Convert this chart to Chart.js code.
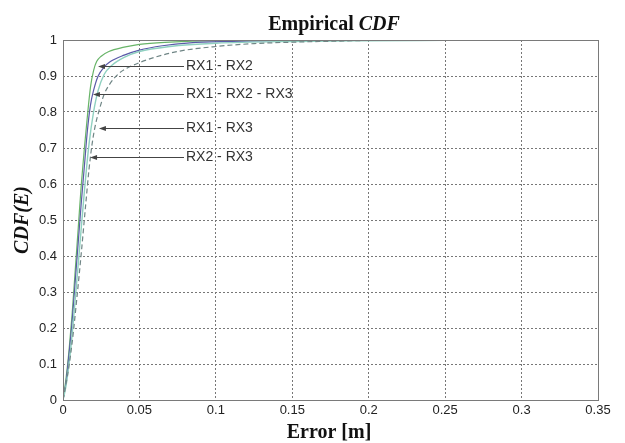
<!DOCTYPE html>
<html>
<head>
<meta charset="utf-8">
<script src="https://cdn.jsdelivr.net/npm/chart.js@4.4.1/dist/chart.umd.min.js"></script>
<style>
  body { margin: 0; background: #fff; }
</style>
</head>
<body>
<canvas id="cdfChart" width="625" height="443"></canvas>
<script>
// valores (error en metros, CDF)
const errRX12 = [0, 0.002, 0.004, 0.006, 0.008, 0.010, 0.012, 0.014, 0.016, 0.018, 0.020, 0.022, 0.025, 0.030, 0.040, 0.050, 0.070, 0.100, 0.150, 0.228];
const cdfRX12 = [0, 0.06, 0.14, 0.24, 0.36, 0.48, 0.60, 0.70, 0.79, 0.87, 0.915, 0.94, 0.955, 0.968, 0.98, 0.988, 0.994, 0.998, 0.999, 1];

const errRX123 = [0, 0.002, 0.004, 0.006, 0.008, 0.010, 0.012, 0.014, 0.016, 0.018, 0.020, 0.023, 0.027, 0.031, 0.040, 0.050, 0.065, 0.083, 0.110, 0.150, 0.200];
const cdfRX123 = [0, 0.05, 0.13, 0.22, 0.33, 0.44, 0.55, 0.65, 0.75, 0.82, 0.86, 0.90, 0.925, 0.94, 0.958, 0.972, 0.984, 0.992, 0.996, 0.999, 1];

const errRX13 = [0, 0.002, 0.005, 0.008, 0.011, 0.014, 0.017, 0.020, 0.023, 0.027, 0.032, 0.040, 0.050, 0.070, 0.100, 0.150, 0.200, 0.250, 0.300, 0.336];
const cdfRX13 = [0, 0.04, 0.14, 0.28, 0.43, 0.58, 0.71, 0.80, 0.86, 0.905, 0.93, 0.952, 0.968, 0.982, 0.991, 0.996, 0.998, 0.999, 1, 1];

const errRX23 = [0, 0.003, 0.006, 0.009, 0.012, 0.015, 0.017, 0.019, 0.021, 0.024, 0.027, 0.031, 0.036, 0.042, 0.050, 0.060, 0.076, 0.100, 0.125, 0.150, 0.180, 0.210];
const cdfRX23 = [0, 0.07, 0.16, 0.28, 0.41, 0.55, 0.64, 0.71, 0.76, 0.81, 0.85, 0.88, 0.905, 0.922, 0.937, 0.952, 0.969, 0.982, 0.99, 0.994, 0.997, 1];

// flechas con etiqueta
const etiquetas = ['RX1 - RX2', 'RX1 - RX2 - RX3', 'RX1 - RX3', 'RX2 - RX3'];
const flechaY = [0.928, 0.85, 0.756, 0.675];
const flechaPunta = [0.0229, 0.0196, 0.0235, 0.0177];
const textoX = 0.0798;

function puntos(xs, ys) {
    return xs.map((x, i) => ({ x: x, y: ys[i] }));
}

// cajas, titulos y flechas al estilo matlab
const extras = {
    id: 'extras',
    afterDraw(chart) {
        const ctx = chart.ctx;
        const a = chart.chartArea;
        const sx = chart.scales.x;
        const sy = chart.scales.y;
        ctx.save();

        ctx.strokeStyle = '#7a7a7a';
        ctx.lineWidth = 1;
        ctx.strokeRect(a.left + 0.5, a.top + 0.5, a.right - a.left, a.bottom - a.top);

        // flechas
        ctx.strokeStyle = '#444';
        ctx.fillStyle = '#444';
        ctx.font = '14px "Liberation Sans", Arial, sans-serif';
        ctx.textBaseline = 'middle';
        etiquetas.forEach((t, i) => {
            let y = Math.round(sy.getPixelForValue(flechaY[i])) + 0.5;
            let tip = sx.getPixelForValue(flechaPunta[i]);
            let tx = sx.getPixelForValue(textoX);
            ctx.beginPath();
            ctx.moveTo(tx - 1, y);
            ctx.lineTo(tip + 2, y);
            ctx.stroke();
            ctx.beginPath();
            ctx.moveTo(tip, y);
            ctx.lineTo(tip + 7, y - 2.5);
            ctx.lineTo(tip + 7, y + 2.5);
            ctx.closePath();
            ctx.fill();
            ctx.fillStyle = '#333';
            ctx.fillText(t, tx + 1, y);
            ctx.fillStyle = '#444';
        });

        // titulo
        ctx.fillStyle = '#111';
        ctx.textBaseline = 'alphabetic';
        ctx.textAlign = 'left';
        const fB = 'bold 20px "Liberation Serif", "Times New Roman", serif';
        const fBI = 'italic bold 20px "Liberation Serif", "Times New Roman", serif';
        ctx.font = fB;
        let w1 = ctx.measureText('Empirical ').width;
        ctx.font = fBI;
        let w2 = ctx.measureText('CDF').width;
        let x0 = 334 - (w1 + w2) / 2;
        ctx.font = fB;
        ctx.fillText('Empirical ', x0, 30);
        ctx.font = fBI;
        ctx.fillText('CDF', x0 + w1, 30);

        // eje x
        ctx.font = fB;
        ctx.textAlign = 'center';
        ctx.fillText('Error [m]', 329, 438);

        // eje y
        ctx.translate(28, 220);
        ctx.rotate(-Math.PI / 2);
        ctx.font = fBI;
        ctx.fillText('CDF(E)', 0, 0);

        ctx.restore();
    }
};

const ctx = document.getElementById('cdfChart').getContext('2d');
new Chart(ctx, {
    type: 'line',
    data: {
        datasets: [
            { label: 'RX2 - RX3', data: puntos(errRX23, cdfRX23), borderColor: '#6f8585', borderDash: [5, 3], borderWidth: 1.2 },
            { label: 'RX1 - RX3', data: puntos(errRX13, cdfRX13), borderColor: '#8fd0c0', borderWidth: 1.4 },
            { label: 'RX1 - RX2 - RX3', data: puntos(errRX123, cdfRX123), borderColor: '#5a5aa8', borderWidth: 1.2 },
            { label: 'RX1 - RX2', data: puntos(errRX12, cdfRX12), borderColor: '#68b468', borderWidth: 1.2 }
        ]
    },
    options: {
        responsive: false,
        animation: false,
        layout: { padding: { left: 0, top: 40, right: 27, bottom: 0 } },
        elements: {
            point: { radius: 0 },
            line: { cubicInterpolationMode: 'monotone', fill: false }
        },
        plugins: {
            legend: { display: false },
            title: { display: false },
            tooltip: { enabled: false }
        },
        scales: {
            x: {
                type: 'linear',
                min: 0,
                max: 0.35,
                afterFit(s) { s.height = 43; },
                ticks: {
                    stepSize: 0.05,
                    padding: 3,
                    color: '#222',
                    font: { family: '"Liberation Sans", Arial, sans-serif', size: 13 },
                    callback: v => String(+v.toFixed(2))
                },
                grid: { color: '#777', drawTicks: false },
                border: { display: false, dash: [2, 2] }
            },
            y: {
                min: 0,
                max: 1,
                afterFit(s) { s.width = 63; },
                ticks: {
                    stepSize: 0.1,
                    padding: 6,
                    color: '#222',
                    font: { family: '"Liberation Sans", Arial, sans-serif', size: 13 },
                    callback: v => String(+v.toFixed(1))
                },
                grid: { color: '#777', drawTicks: false },
                border: { display: false, dash: [2, 2] }
            }
        }
    },
    plugins: [extras]
});
</script>
</body>
</html>
